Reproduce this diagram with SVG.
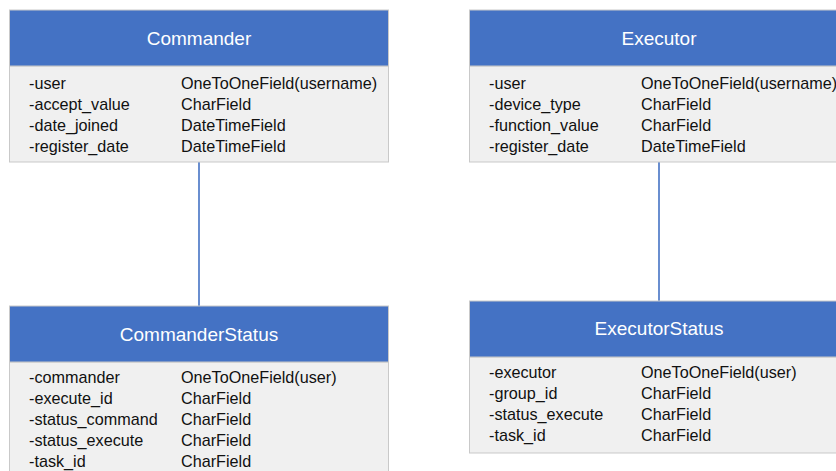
<svg xmlns="http://www.w3.org/2000/svg" width="836" height="471" viewBox="0 0 836 471">
  <style>
    .hdr { fill: #4472C4; stroke: #C9C9C9; stroke-width: 1; }
    .body { fill: #F0F0F0; stroke: #C9C9C9; stroke-width: 1; }
    .title { font-family: "Liberation Sans", Arial, sans-serif; font-size: 19px; fill: #FFFFFF; text-anchor: middle; }
    .f { font-family: "Liberation Sans", Arial, sans-serif; font-size: 16.2px; fill: #111111; }
    .conn { stroke: #4472C4; stroke-width: 1.6; fill: none; }
  </style>

  <g id="connectors">
    <line class="conn" x1="199" y1="162" x2="199" y2="306"/>
    <line class="conn" x1="659" y1="162" x2="659" y2="301"/>
  </g>

  <g id="Commander">
    <rect class="body" x="9.5" y="66" width="379" height="96"/>
    <rect class="hdr" x="9.5" y="10" width="379" height="56"/>
    <text class="title" x="199" y="45">Commander</text>
    <text class="f" x="29" y="88.5">-user</text>
    <text class="f" x="181" y="88.5">OneToOneField(username)</text>
    <text class="f" x="29" y="109.7">-accept_value</text>
    <text class="f" x="181" y="109.7">CharField</text>
    <text class="f" x="29" y="130.9">-date_joined</text>
    <text class="f" x="181" y="130.9">DateTimeField</text>
    <text class="f" x="29" y="152">-register_date</text>
    <text class="f" x="181" y="152">DateTimeField</text>
  </g>

  <g id="Executor">
    <rect class="body" x="469.5" y="66" width="380" height="96"/>
    <rect class="hdr" x="469.5" y="10" width="380" height="56"/>
    <text class="title" x="659" y="45">Executor</text>
    <text class="f" x="489" y="88.5">-user</text>
    <text class="f" x="641" y="88.5">OneToOneField(username)</text>
    <text class="f" x="489" y="109.7">-device_type</text>
    <text class="f" x="641" y="109.7">CharField</text>
    <text class="f" x="489" y="130.9">-function_value</text>
    <text class="f" x="641" y="130.9">CharField</text>
    <text class="f" x="489" y="152">-register_date</text>
    <text class="f" x="641" y="152">DateTimeField</text>
  </g>

  <g id="CommanderStatus">
    <rect class="body" x="9.5" y="362" width="379" height="120"/>
    <rect class="hdr" x="9.5" y="306" width="379" height="56"/>
    <text class="title" x="199" y="341">CommanderStatus</text>
    <text class="f" x="29" y="382.5">-commander</text>
    <text class="f" x="181" y="382.5">OneToOneField(user)</text>
    <text class="f" x="29" y="403.7">-execute_id</text>
    <text class="f" x="181" y="403.7">CharField</text>
    <text class="f" x="29" y="424.9">-status_command</text>
    <text class="f" x="181" y="424.9">CharField</text>
    <text class="f" x="29" y="446.1">-status_execute</text>
    <text class="f" x="181" y="446.1">CharField</text>
    <text class="f" x="29" y="467.3">-task_id</text>
    <text class="f" x="181" y="467.3">CharField</text>
  </g>

  <g id="ExecutorStatus">
    <rect class="body" x="469.5" y="357" width="380" height="96"/>
    <rect class="hdr" x="469.5" y="301" width="380" height="56"/>
    <text class="title" x="659" y="335">ExecutorStatus</text>
    <text class="f" x="489" y="377.5">-executor</text>
    <text class="f" x="641" y="377.5">OneToOneField(user)</text>
    <text class="f" x="489" y="398.7">-group_id</text>
    <text class="f" x="641" y="398.7">CharField</text>
    <text class="f" x="489" y="419.9">-status_execute</text>
    <text class="f" x="641" y="419.9">CharField</text>
    <text class="f" x="489" y="441.1">-task_id</text>
    <text class="f" x="641" y="441.1">CharField</text>
  </g>
</svg>
